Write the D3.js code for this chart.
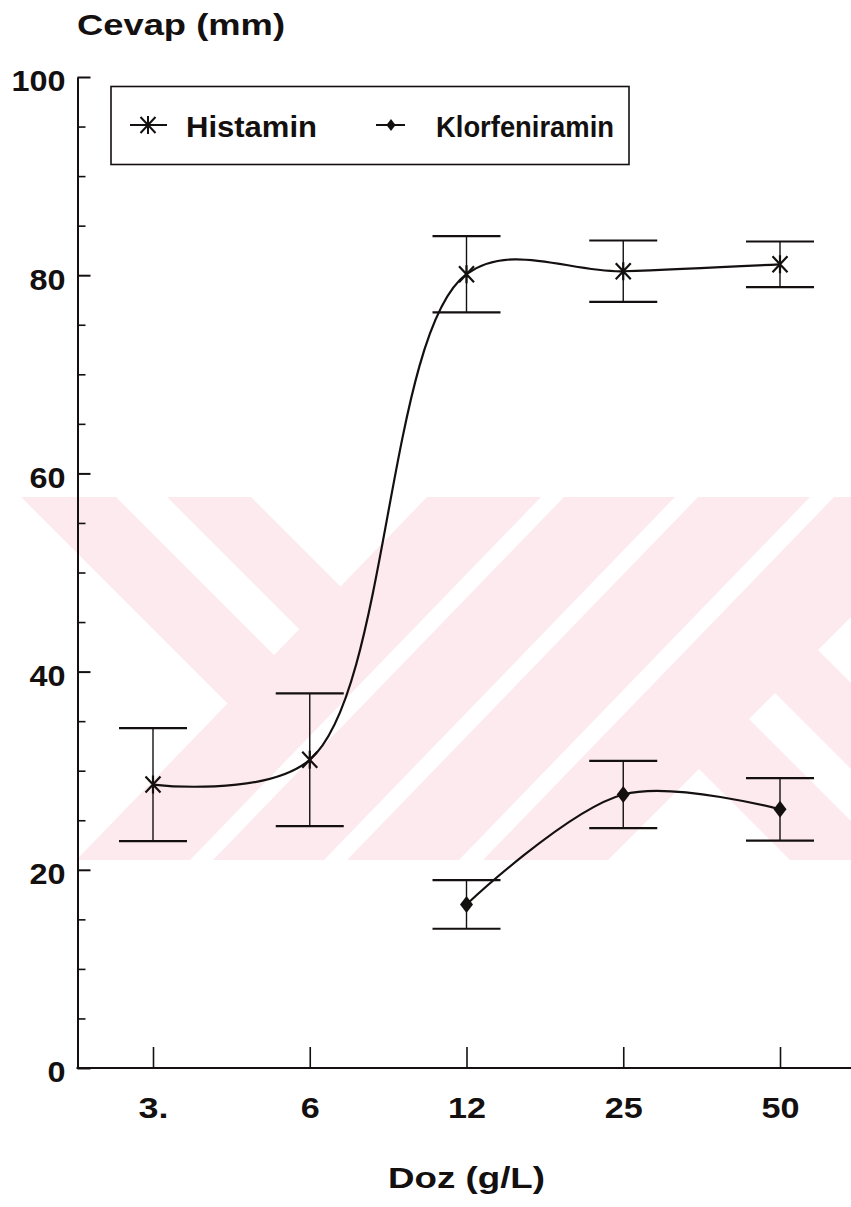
<!DOCTYPE html>
<html>
<head>
<meta charset="utf-8">
<script src="https://cdn.jsdelivr.net/npm/d3@7"></script>
<style>
  html, body { margin: 0; padding: 0; background: #fff; }
  svg { display: block; }
</style>
</head>
<body>
<svg id="chart" width="851" height="1207"></svg>
<script>
// Dose categories on the x axis
const doses = ["3.", "6", "12", "25", "50"];

// Histamin response (mm): mean and error
const histaminMean = [28.6, 31.1, 80.1, 80.4, 81.1];
const histaminErr  = [5.7, 6.7, 3.85, 3.1, 2.3];

// Klorfeniramin response (mm): measured only from 12 g/L upward
const klorMean = [null, null, 16.5, 27.6, 26.1];
const klorErr  = [null, null, 2.45, 3.4, 3.15];

// Y axis ticks
const yMajor = [0, 20, 40, 60, 80, 100];
const yMinor = [5, 10, 15, 25, 30, 35, 45, 50, 55, 65, 70, 75, 85, 90, 95];

const seriesNames = ["Histamin", "Klorfeniramin"];
const yTitle = "Cevap (mm)";
const xTitle = "Doz (g/L)";

const W = 851, H = 1207;
const axisX = 77.5, axisY = 1068;
const FONT = "'Liberation Sans', Arial, Helvetica, sans-serif";
const INK = "#141010";

const svg = d3.select("#chart");

const x = d3.scalePoint().domain(doses).range([153, 780]);
const y = d3.scaleLinear().domain([0, 100]).range([axisY, 77]);

// width of a label in the wide bold face: digits ~18-19px, dot ~11px
const labelWidth = (s, digit) => Array.from(String(s)).reduce((w, c) => w + (c === "." ? 11 : digit), 0);

// wide bold label helper: stretches glyphs to a given width
function label(g, text, px, py, width, anchor) {
  const t = g.append("text").text(text)
    .attr("x", px).attr("y", py)
    .attr("font-family", FONT).attr("font-size", 30).attr("font-weight", "bold")
    .attr("fill", INK);
  if (anchor) t.attr("text-anchor", anchor);
  if (width) t.attr("textLength", width).attr("lengthAdjust", "spacingAndGlyphs");
  return t;
}

// ---- background stamp: pale pink diagonal bands ----
const stamp = svg.append("g");
const defs = svg.append("defs");
const band = { top: 497, bottom: 860 };
defs.append("clipPath").attr("id", "bandClip")
  .append("rect").attr("x", 0).attr("y", band.top).attr("width", W).attr("height", band.bottom - band.top);
defs.append("clipPath").attr("id", "leftClip")
  .append("polygon").attr("points", "0,497 427,497 76.3,860 0,860");
defs.append("clipPath").attr("id", "rightClip")
  .append("polygon").attr("points", "608,860 971,497 1200,497 1200,860");

const sg = stamp.append("g").attr("clip-path", "url(#bandClip)");
sg.append("rect").attr("x", 0).attr("y", band.top).attr("width", W)
  .attr("height", band.bottom - band.top).attr("fill", "#fdeaee");

const poly = (g, pts) => g.append("polygon").attr("points", pts).attr("fill", "#fff");
const leftCut = sg.append("g").attr("clip-path", "url(#leftClip)");
poly(leftCut, "0,497 21,497 384,860 0,860");
poly(leftCut, "116,497 167,497 530,860 479,860");
poly(leftCut, "251,497 900,497 900,860 614,860");
const rightCut = sg.append("g").attr("clip-path", "url(#rightClip)");
poly(rightCut, "0,497 427,497 790,860 0,860");
poly(rightCut, "527,497 579,497 942,860 890,860");
poly(rightCut, "665,497 1200,497 1200,860 1028,860");
poly(sg, "541,497 564,497 213,860 190,860");
poly(sg, "675,497 698,497 347,860 324,860");
poly(sg, "810,497 834,497 483,860 459,860");

// ---- axes ----
const yAxisG = svg.append("g").attr("transform", `translate(${axisX},0)`)
  .call(d3.axisLeft(y).tickValues(yMajor).tickSize(-13).tickSizeOuter(0)
    .tickPadding(12).tickFormat(d3.format("d")));
yAxisG.select(".domain").attr("stroke", INK).attr("stroke-width", 2);
yAxisG.selectAll(".tick line").attr("stroke", INK).attr("stroke-width", 2);
yAxisG.selectAll(".tick text")
  .attr("fill", INK).attr("dy", "0.46em")
  .attr("font-family", FONT).attr("font-size", 30).attr("font-weight", "bold")
  .attr("textLength", d => labelWidth(d, 18)).attr("lengthAdjust", "spacingAndGlyphs");

const yMinorG = svg.append("g").attr("transform", `translate(${axisX},0)`)
  .call(d3.axisLeft(y).tickValues(yMinor).tickSize(-8).tickSizeOuter(0).tickFormat(""));
yMinorG.select(".domain").remove();
yMinorG.selectAll(".tick line").attr("stroke", INK).attr("stroke-width", 1.6);

const xAxisG = svg.append("g").attr("transform", `translate(0,${axisY})`)
  .call(d3.axisBottom(x).tickSize(-21).tickSizeOuter(0).tickPadding(29));
xAxisG.select(".domain").remove();
xAxisG.selectAll(".tick line").attr("stroke", INK).attr("stroke-width", 1.6);
xAxisG.selectAll(".tick text")
  .attr("fill", INK)
  .attr("font-family", FONT).attr("font-size", 30).attr("font-weight", "bold")
  .attr("textLength", d => labelWidth(d, 19)).attr("lengthAdjust", "spacingAndGlyphs");
xAxisG.append("line")
  .attr("x1", axisX - 1).attr("x2", W).attr("y1", 0).attr("y2", 0)
  .attr("stroke", INK).attr("stroke-width", 2);

// axis titles
label(svg, yTitle, 77, 35, 208);
label(svg, xTitle, (x(doses[0]) + x(doses[doses.length - 1])) / 2, 1188, 157, "middle");

// ---- series ----
function rows(means, errs) {
  return doses.map((d, i) => ({ dose: d, v: means[i], e: errs[i] }))
              .filter(r => r.v != null);
}
const histamin = rows(histaminMean, histaminErr);
const klor = rows(klorMean, klorErr);

const capHalf = 34;
function errorBars(data) {
  const g = svg.append("g").attr("stroke", INK).attr("fill", "none");
  data.forEach(r => {
    const cx = x(r.dose);
    g.append("line").attr("x1", cx).attr("x2", cx)
      .attr("y1", y(r.v - r.e)).attr("y2", y(r.v + r.e)).attr("stroke-width", 1.4);
    [r.v - r.e, r.v + r.e].forEach(v => {
      g.append("line").attr("x1", cx - capHalf).attr("x2", cx + capHalf)
        .attr("y1", y(v)).attr("y2", y(v)).attr("stroke-width", 2.2);
    });
  });
}
errorBars(histamin);
errorBars(klor);

const line = d3.line().x(d => x(d.dose)).y(d => y(d.v)).curve(d3.curveCatmullRom);
[histamin, klor].forEach(data => {
  svg.append("path").datum(data).attr("d", line)
    .attr("fill", "none").attr("stroke", INK).attr("stroke-width", 2.2);
});

// marker shapes
const asteriskPath = "M0,-9V9M-7.5,-8L7.5,8M7.5,-8L-7.5,8";
const diamondPath = "M0,-8.5L6.5,0L0,8.5L-6.5,0Z";

svg.append("g").selectAll("path").data(histamin).join("path")
  .attr("transform", d => `translate(${x(d.dose)},${y(d.v)})`)
  .attr("d", asteriskPath).attr("fill", "none").attr("stroke", INK).attr("stroke-width", 2.2);

svg.append("g").selectAll("path").data(klor).join("path")
  .attr("transform", d => `translate(${x(d.dose)},${y(d.v)})`)
  .attr("d", diamondPath).attr("fill", INK);

// ---- legend ----
const lg = svg.append("g");
lg.append("rect").attr("x", 111).attr("y", 86.5).attr("width", 518).attr("height", 78)
  .attr("fill", "#fff").attr("stroke", INK).attr("stroke-width", 1.6);
const legendY = 125;
lg.append("line").attr("x1", 130).attr("x2", 167).attr("y1", legendY).attr("y2", legendY)
  .attr("stroke", INK).attr("stroke-width", 2);
lg.append("path").attr("transform", `translate(148,${legendY})`).attr("d", asteriskPath)
  .attr("fill", "none").attr("stroke", INK).attr("stroke-width", 2);
label(lg, seriesNames[0], 186, 137, 131);
lg.append("line").attr("x1", 376).attr("x2", 405).attr("y1", legendY).attr("y2", legendY)
  .attr("stroke", INK).attr("stroke-width", 2);
lg.append("path").attr("transform", `translate(391,${legendY}) scale(0.7)`).attr("d", diamondPath)
  .attr("fill", INK);
label(lg, seriesNames[1], 436, 137, 178);
</script>
</body>
</html>
